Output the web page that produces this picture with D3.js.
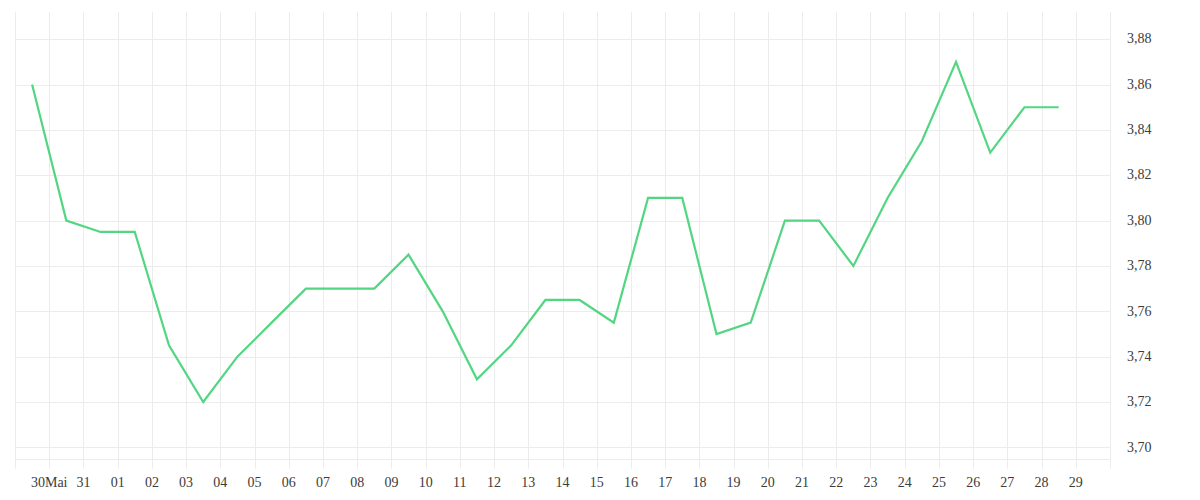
<!DOCTYPE html>
<html>
<head>
<meta charset="utf-8">
<script src="https://cdn.jsdelivr.net/npm/d3@7"></script>
<style>
  body { margin: 0; background: #fff; }
  text { font-family: "Liberation Serif", serif; font-size: 14px; fill: #3c3c3c; }
</style>
</head>
<body>
<div id="chart"></div>
<script>
const width = 1200;
const height = 500;
const margin = { top: 12, right: 90, bottom: 41.3, left: 15 };

// one value per day, each plotted at midday
const dates = [
  '2024-05-29', '2024-05-30', '2024-05-31', '2024-06-01', '2024-06-02', '2024-06-03',
  '2024-06-04', '2024-06-05', '2024-06-06', '2024-06-07', '2024-06-08', '2024-06-09',
  '2024-06-10', '2024-06-11', '2024-06-12', '2024-06-13', '2024-06-14', '2024-06-15',
  '2024-06-16', '2024-06-17', '2024-06-18', '2024-06-19', '2024-06-20', '2024-06-21',
  '2024-06-22', '2024-06-23', '2024-06-24', '2024-06-25', '2024-06-26', '2024-06-27',
  '2024-06-28'
];
const values = [
  3.86, 3.80, 3.795, 3.795, 3.745, 3.72, 3.74, 3.755, 3.77, 3.77, 3.77, 3.785,
  3.76, 3.73, 3.745, 3.765, 3.765, 3.755, 3.81, 3.81, 3.75, 3.755, 3.80, 3.80,
  3.78, 3.81, 3.835, 3.87, 3.83, 3.85, 3.85
];
const tickLabels = [
  '30Mai', '31', '01', '02', '03', '04', '05', '06', '07', '08', '09', '10',
  '11', '12', '13', '14', '15', '16', '17', '18', '19', '20', '21', '22',
  '23', '24', '25', '26', '27', '28', '29'
];
const yTicks = [3.70, 3.72, 3.74, 3.76, 3.78, 3.80, 3.82, 3.84, 3.86, 3.88];

const parse = d3.utcParse('%Y-%m-%d');
const data = dates.map((d, i) => ({ date: d3.utcHour.offset(parse(d), 12), value: values[i] }));

const start = parse(dates[0]);
const end = d3.utcDay.offset(parse(dates[dates.length - 1]), 2);
const tickDays = d3.utcDay.range(d3.utcDay.offset(start, 1), end);

const xScale = d3.scaleUtc()
  .domain([start, end])
  .range([margin.left, width - margin.right]);

const yScale = d3.scaleLinear()
  .domain([3.695, 3.892])
  .range([height - margin.bottom, margin.top]);

const locale = d3.formatLocale({ decimal: ',', thousands: '.', grouping: [3], currency: ['', ''] });
const yFormat = locale.format('.2f');

const svg = d3.select('#chart')
  .append('svg')
  .attr('width', width)
  .attr('height', height);

const gridColor = '#ececec';
const bottom = height - margin.bottom;

// horizontal grid
svg.append('g')
  .selectAll('line')
  .data(yTicks)
  .join('line')
  .attr('x1', margin.left)
  .attr('x2', width - margin.right)
  .attr('y1', (d) => Math.round(yScale(d)) + 0.5)
  .attr('y2', (d) => Math.round(yScale(d)) + 0.5)
  .attr('stroke', gridColor);

svg.append('line')
  .attr('x1', margin.left)
  .attr('x2', width - margin.right)
  .attr('y1', Math.round(bottom) + 0.5)
  .attr('y2', Math.round(bottom) + 0.5)
  .attr('stroke', gridColor);

// vertical grid, running 10px under the plot as ticks
svg.append('g')
  .selectAll('line')
  .data([start].concat(tickDays, [end]))
  .join('line')
  .attr('x1', (d) => Math.round(xScale(d)) + 0.5)
  .attr('x2', (d) => Math.round(xScale(d)) + 0.5)
  .attr('y1', margin.top)
  .attr('y2', bottom + 10)
  .attr('stroke', gridColor);

// x labels
svg.append('g')
  .selectAll('text')
  .data(tickDays)
  .join('text')
  .attr('x', (d) => xScale(d))
  .attr('y', 484)
  .attr('text-anchor', 'middle')
  .attr('dominant-baseline', 'middle')
  .text((d, i) => tickLabels[i]);

// y labels
svg.append('g')
  .selectAll('text')
  .data(yTicks)
  .join('text')
  .attr('x', 1127)
  .attr('y', (d) => yScale(d) + 1)
  .attr('dominant-baseline', 'middle')
  .text((d) => yFormat(d));

const line = d3.line()
  .x((d) => xScale(d.date))
  .y((d) => yScale(d.value));

svg.append('path')
  .datum(data)
  .attr('fill', 'none')
  .attr('stroke', '#52d682')
  .attr('stroke-width', 2.2)
  .attr('stroke-linejoin', 'miter')
  .attr('d', line);
</script>
</body>
</html>
